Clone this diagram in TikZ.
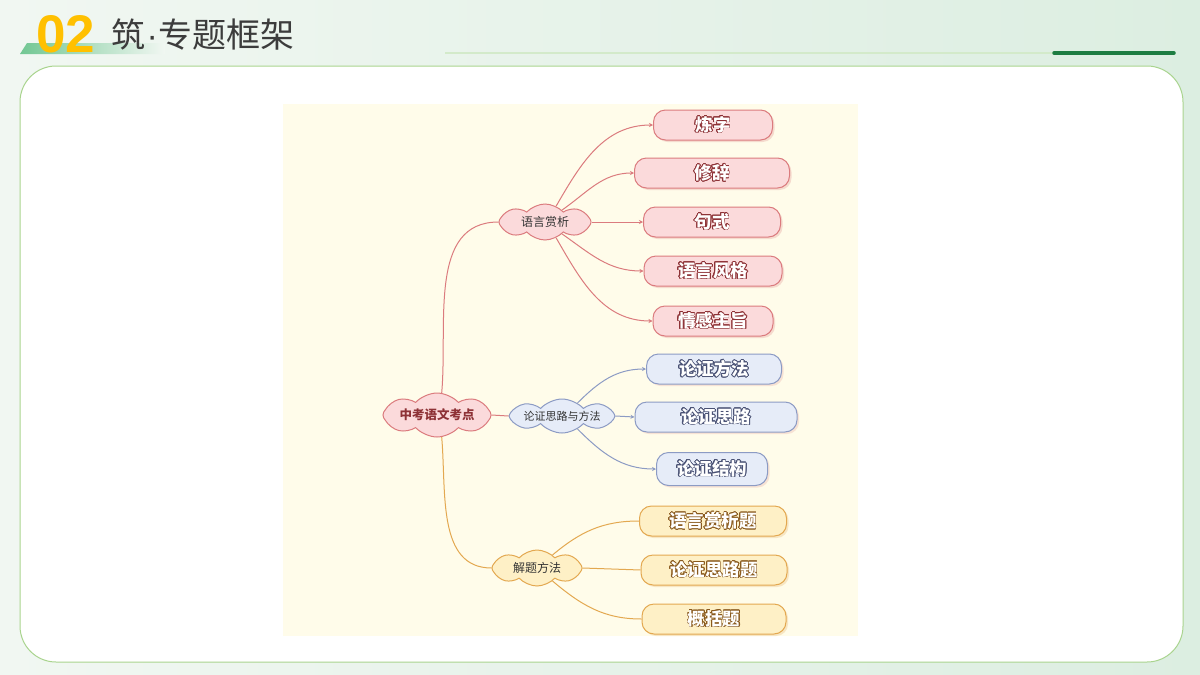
\documentclass[tikz,border=0pt]{standalone}
\usepackage{fontspec}
\setmainfont{Noto Sans CJK SC}
\newfontfamily\numfont{Liberation Sans}
\usepackage{contour}
\contourlength{0.6pt}
\usetikzlibrary{shapes.symbols,arrows.meta,shadows}

\definecolor{bgl}{HTML}{F1F7F2}
\definecolor{bgr}{HTML}{DCEEE1}
\definecolor{cardline}{HTML}{A9D48E}
\definecolor{mapbg}{HTML}{FFFCEA}
\definecolor{hdrgreen}{HTML}{72C793}
\definecolor{numyellow}{HTML}{FFC000}
\definecolor{titlegray}{HTML}{3C3C3C}
\definecolor{thinline}{HTML}{D3EACA}
\definecolor{darkgreen}{HTML}{1E7D42}
\definecolor{redline}{HTML}{DB7B7E}
\definecolor{redfill}{HTML}{FBDADB}
\definecolor{redtext}{HTML}{8E3236}
\definecolor{blueline}{HTML}{8C9BC4}
\definecolor{bluefill}{HTML}{E6ECF8}
\definecolor{bluetext}{HTML}{4A5275}
\definecolor{yelline}{HTML}{E3A850}
\definecolor{yelfill}{HTML}{FEF0C6}
\definecolor{yeltext}{HTML}{8A5A1E}

\tikzset{
  puff/.style={cloud, cloud puffs=8, cloud puff arc=95, cloud ignores aspect, line width=1pt,
    inner sep=0pt, text=black!80, font=\fontsize{12}{12}\selectfont},
  leafbox/.style={rounded corners=12pt, minimum height=30pt, line width=1pt,
    text=white, font=\bfseries\fontsize{17.5}{17.5}\selectfont},
  redleaf/.style={leafbox, draw=redline, fill=redfill,
    drop shadow={shadow xshift=2pt, shadow yshift=-2pt, fill=redline, opacity=0.25}},
  blueleaf/.style={leafbox, draw=blueline, fill=bluefill,
    drop shadow={shadow xshift=2pt, shadow yshift=-2pt, fill=redline, opacity=0.2}},
  yelleaf/.style={leafbox, draw=yelline, fill=yelfill,
    drop shadow={shadow xshift=2pt, shadow yshift=-2pt, fill=yelline, opacity=0.25}},
  tip/.style={-{Stealth[length=4pt,width=4pt]}},
  redlink/.style={draw=redline, line width=1pt},
  bluelink/.style={draw=blueline, line width=1pt},
  yellink/.style={draw=yelline, line width=1pt},
}

\begin{document}
\begin{tikzpicture}[x=1pt,y=-1pt]
\useasboundingbox (0,0) rectangle (1200,675);
% slide background and card
\shade[left color=bgl, right color=bgr] (0,0) rectangle (1200,675);
\draw[cardline, line width=1pt, fill=white, rounded corners=36pt] (20,66) rectangle (1183,662);
\fill[mapbg] (283,104) rectangle (858,636);

% header
\shade[left color=hdrgreen, right color=bgl] (20,54)--(27,43)--(165,43)--(165,54)--cycle;
\node[text=numyellow, font=\numfont\bfseries\fontsize{53}{53}\selectfont] (num) at (66,34) {02};
\node[anchor=west, text=titlegray, font=\fontsize{34}{34}\selectfont] (title) at (108,35) {筑{\numfont\kern1pt·\kern1pt}专题框架};
\draw[thinline, line width=1.5pt] (445,53)--(1054,53);
\draw[darkgreen, line width=3.5pt, line cap=round] (1054,53)--(1174,53);

% clouds
\node[puff, draw=redline, fill=redfill, minimum width=108pt, minimum height=44pt,
  text=redtext, font=\bfseries\fontsize{12.5}{12.5}\selectfont] (root) at (437,415) {中考语文考点};
\node[puff, draw=redline, fill=redfill, minimum width=92pt, minimum height=36pt] (lang) at (545,222) {语言赏析};
\node[puff, draw=blueline, fill=bluefill, minimum width=106pt, minimum height=34pt,
  font=\fontsize{11}{11}\selectfont] (argu) at (562,416) {论证思路与方法};
\node[puff, draw=yelline, fill=yelfill, minimum width=90pt, minimum height=36pt] (meth) at (537,568) {解题方法};

% leaves
\node[redleaf, minimum width=119pt] (lz) at (713,125) {\contour{redtext}{炼字}};
\node[redleaf, minimum width=155pt] (xc) at (712,173) {\contour{redtext}{修辞}};
\node[redleaf, minimum width=137pt] (jsh) at (712,222) {\contour{redtext}{句式}};
\node[redleaf, minimum width=138pt] (yf) at (713,271) {\contour{redtext}{语言风格}};
\node[redleaf, minimum width=120pt] (qg) at (713,321) {\contour{redtext}{情感主旨}};
\node[blueleaf, minimum width=135pt] (lf) at (714,369) {\contour{bluetext}{论证方法}};
\node[blueleaf, minimum width=162pt] (ls) at (716,417) {\contour{bluetext}{论证思路}};
\node[blueleaf, minimum width=111pt, minimum height=33pt] (lj) at (712,469) {\contour{bluetext}{论证结构}};
\node[yelleaf, minimum width=147pt] (yt) at (713,521) {\contour{yeltext}{语言赏析题}};
\node[yelleaf, minimum width=146pt] (lt) at (714,570) {\contour{yeltext}{论证思路题}};
\node[yelleaf, minimum width=144pt] (gk) at (714,619) {\contour{yeltext}{概括题}};

% root links
\draw[redlink] (root.78) to[out=85,in=180] (lang.west);
\draw[redlink] (root.east) -- (argu.west);
\draw[yellink] (root.-78) to[out=-85,in=180] (meth.west);

% branch links
\draw[redlink, tip] (lang.55) to[out=60,in=180] (lz.west);
\draw[redlink, tip] (lang.35) to[out=35,in=180] (xc.west);
\draw[redlink, tip] (lang.east) -- (jsh.west);
\draw[redlink, tip] (lang.-35) to[out=-35,in=180] (yf.west);
\draw[redlink, tip] (lang.-55) to[out=-60,in=180] (qg.west);
\draw[bluelink, tip] (argu.40) to[out=45,in=180] (lf.west);
\draw[bluelink, tip] (argu.east) -- (ls.west);
\draw[bluelink, tip] (argu.-40) to[out=-45,in=180] (lj.west);
\draw[yellink] (meth.40) to[out=40,in=180] (yt.west);
\draw[yellink] (meth.east) -- (lt.west);
\draw[yellink] (meth.-40) to[out=-40,in=180] (gk.west);
\end{tikzpicture}
\end{document}
